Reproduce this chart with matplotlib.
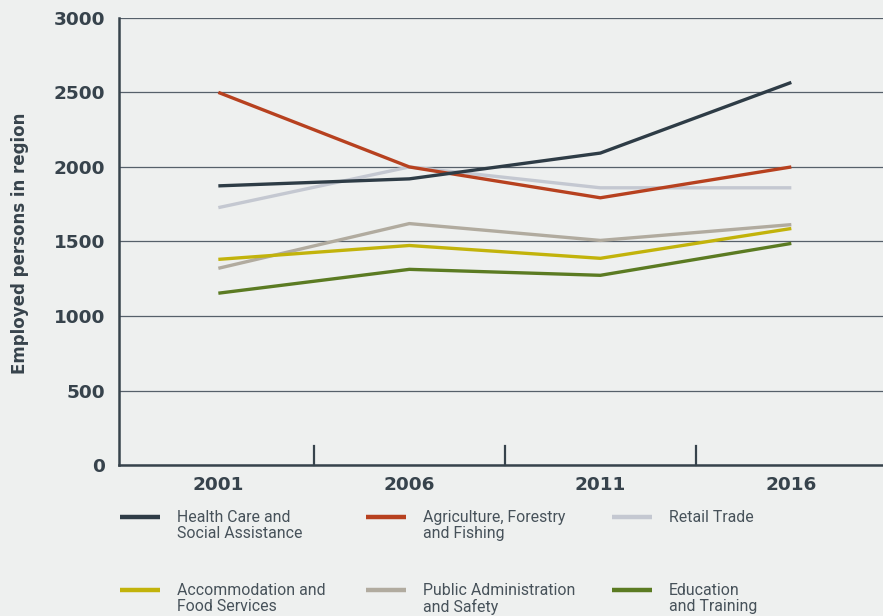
import matplotlib.pyplot as plt
from matplotlib.lines import Line2D

# Census years and employment by industry
years = ["2001", "2006", "2011", "2016"]
health = [1873, 1920, 2093, 2567]
agriculture = [2500, 2000, 1793, 2000]
retail = [1727, 2000, 1860, 1860]
accommodation = [1380, 1473, 1387, 1587]
public_admin = [1320, 1620, 1507, 1613]
education = [1153, 1313, 1273, 1487]

series = [
    ("Health Care and\nSocial Assistance", health, "#2e3c46"),
    ("Agriculture, Forestry\nand Fishing", agriculture, "#b7411f"),
    ("Retail Trade", retail, "#c4c8d1"),
    ("Accommodation and\nFood Services", accommodation, "#c2b30b"),
    ("Public Administration\nand Safety", public_admin, "#b1ab9f"),
    ("Education\nand Training", education, "#5b7b22"),
]

bg = "#eef0ef"
text_col = "#37434c"
bold_font = "DejaVu Sans"

fig = plt.figure(figsize=(8.83, 6.16), dpi=100, facecolor=bg)
ax = fig.add_axes([0.1348, 0.245, 0.8652, 0.726], facecolor=bg)

x = list(range(len(years)))
draw_order = [4, 3, 5, 2, 1, 0]
for i in draw_order:
    label, vals, col = series[i]
    ax.plot(x, vals, color=col, linewidth=2.4, solid_capstyle="butt", zorder=3)

ax.set_xlim(-0.52, 3.48)
ax.set_ylim(0, 3000)
ax.set_yticks(range(0, 3001, 500))
ax.set_xticks(x)
ax.set_xticklabels(years)
ax.grid(axis="y", color="#56606a", linewidth=0.9, zorder=1)
ax.tick_params(axis="both", length=0, labelsize=13.3, labelcolor=text_col)
ax.tick_params(axis="y", pad=10)
ax.tick_params(axis="x", pad=8)
for lab in ax.get_xticklabels() + ax.get_yticklabels():
    lab.set_fontweight("bold")
    lab.set_family(bold_font)

# small separator ticks between categories
for sep in [0.5, 1.5, 2.5]:
    ax.plot([sep, sep], [0, 130], color="#37434c", linewidth=1.6, zorder=4, clip_on=False)

for side in ["top", "right"]:
    ax.spines[side].set_visible(False)
for side in ["left", "bottom"]:
    ax.spines[side].set_color("#37434c")
    ax.spines[side].set_linewidth(1.8)

fig.text(20 / 883, 1 - 243 / 616, "Employed persons in region", rotation=90,
         ha="center", va="center", fontsize=12, fontweight="bold",
         color=text_col, family=bold_font)

# legend, drawn by hand: 2 rows x 3 columns
col_x = [120, 366, 612]
row_y = [517, 590]
W, H = 883, 616
for k, (label, vals, col) in enumerate(series):
    r, c = divmod(k, 3)
    x0 = col_x[c]
    y0 = row_y[r]
    fig.add_artist(Line2D([x0 / W, (x0 + 40) / W], [1 - y0 / H, 1 - y0 / H],
                          color=col, linewidth=3.2, solid_capstyle="butt"))
    fig.text((x0 + 57) / W, 1 - (y0 - 7) / H, label, ha="left", va="top",
             fontsize=11.4, color="#47525a", family="Roboto", linespacing=1.05)

fig.savefig("out.png", dpi=100, facecolor=bg)
